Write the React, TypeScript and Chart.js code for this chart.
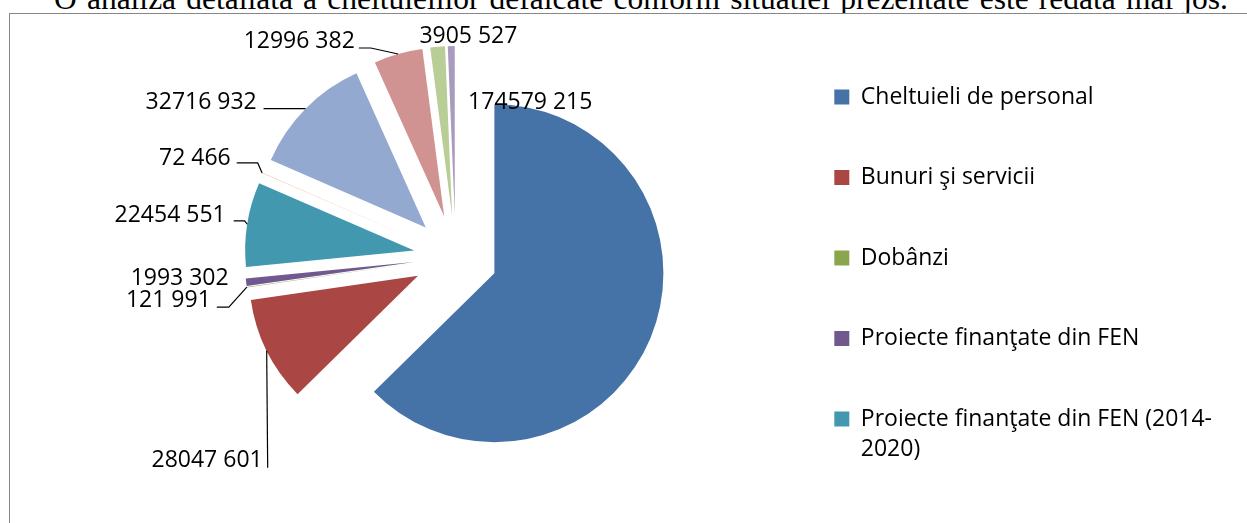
import React, { useEffect, useRef } from 'react';
import { Chart, registerables } from 'chart.js';

Chart.register(...registerables);

// ---------- data ----------
const headingText =
  'O analiza detaliata a cheltuielilor defalcate conform situatiei prezentate este redata mai jos.';

const categories: (string | string[])[] = [
  'Cheltuieli de personal',
  'Bunuri şi servicii',
  'Dobânzi',
  'Proiecte finanţate din FEN',
  ['Proiecte finanţate din FEN (2014-', '2020)'],
  'Transferuri',
  'Asistenţă socială',
  'Alte cheltuieli',
  'Active nefinanciare',
  'Active financiare',
];

const values = [
  174579215, 28047601, 121991, 1993302, 22454551, 72466, 32716932, 12996382, 3905527, 1850000,
];

const colors = [
  '#4572A7',
  '#AA4643',
  '#89A54E',
  '#71588F',
  '#4198AF',
  '#DB843D',
  '#93A9CF',
  '#D19392',
  '#B9CD96',
  '#A99BBD',
];

const legendVisibleCount = 5;

// ---------- style / placement ----------
const EXPLODE = 42;
const RADIUS = 169;
const LABEL_FONT_SIZE = 23;
const LABEL_FONT = `${LABEL_FONT_SIZE}px 'Open Sans', sans-serif`;

type Placement = { dx: number; dy: number; align: CanvasTextAlign; leader: number[][] } | null;
// offsets relative to the outer point of each slice's bisector
const labelPlacement: Placement[] = [
  { dx: -120, dy: -238, align: 'center', leader: [] },
  { dx: -4, dy: 108, align: 'right', leader: [[1, 117]] },
  { dx: -36, dy: 12, align: 'right', leader: [[-18, 20], [-30, 20]] },
  { dx: -17.5, dy: -5, align: 'right', leader: [] },
  { dx: -21.5, dy: -10.4, align: 'right', leader: [[-2.5, -3.4], [-13.5, -3.4]] },
  { dx: -31.4, dy: -16, align: 'right', leader: [[-4.4, -10], [-25.4, -10]] },
  { dx: -48.8, dy: -7.8, align: 'right', leader: [[-42, 0]] },
  { dx: -43.3, dy: -14, align: 'right', leader: [[-27.3, -6], [-39.3, -6]] },
  { dx: 30.8, dy: -11.8, align: 'center', leader: [] },
  null,
];

const fmt = (v: number) => {
  const s = String(v);
  return s.length > 3 ? s.slice(0, -3) + ' ' + s.slice(-3) : s;
};

const explodedPie = {
  id: 'explodedPie',
  beforeDatasetDraw(chart: any, args: any) {
    const ctx = chart.ctx;
    ctx.save();
    args.meta.data.forEach((arc: any) => {
      const { x, y, startAngle, endAngle, outerRadius } = arc;
      const mid = (startAngle + endAngle) / 2;
      const cx = x + EXPLODE * Math.cos(mid);
      const cy = y + EXPLODE * Math.sin(mid);
      ctx.beginPath();
      ctx.moveTo(cx, cy);
      ctx.arc(cx, cy, outerRadius, startAngle, endAngle);
      ctx.closePath();
      ctx.fillStyle = arc.options.backgroundColor;
      ctx.fill();
    });
    ctx.restore();
    return false;
  },
};

const valueLabels = {
  id: 'valueLabels',
  afterDatasetsDraw(chart: any) {
    const ctx = chart.ctx;
    const meta = chart.getDatasetMeta(0);
    const data = chart.data.datasets[0].data as number[];
    ctx.save();
    ctx.font = LABEL_FONT;
    ctx.fillStyle = '#000';
    ctx.strokeStyle = '#000';
    ctx.lineWidth = 1.2;
    meta.data.forEach((arc: any, i: number) => {
      const place = labelPlacement[i];
      if (!place) return;
      const mid = (arc.startAngle + arc.endAngle) / 2;
      const r = EXPLODE + arc.outerRadius;
      const px = arc.x + r * Math.cos(mid);
      const py = arc.y + r * Math.sin(mid);
      if (place.leader.length) {
        ctx.beginPath();
        ctx.moveTo(px, py);
        place.leader.forEach(([lx, ly]) => ctx.lineTo(px + lx, py + ly));
        ctx.stroke();
      }
      ctx.textAlign = place.align;
      ctx.textBaseline = 'alphabetic';
      ctx.fillText(fmt(data[i]), px + place.dx, py + place.dy + LABEL_FONT_SIZE * 0.36);
    });
    ctx.restore();
  },
};

function PieChart() {
  const ref = useRef<HTMLCanvasElement | null>(null);
  useEffect(() => {
    if (!ref.current) return;
    const chart = new Chart(ref.current, {
      type: 'pie',
      data: {
        labels: categories as any,
        datasets: [
          {
            data: values,
            backgroundColor: colors,
            borderWidth: 0,
            hoverOffset: 0,
            radius: RADIUS,
          } as any,
        ],
      },
      options: {
        responsive: false,
        animation: false,
        events: [],
        layout: { padding: { left: 124.5, right: 25, top: 0, bottom: 0 } },
        plugins: {
          legend: {
            position: 'right',
            align: 'end',
            labels: {
              boxWidth: 15,
              boxHeight: 15,
              padding: 57.5,
              color: '#000',
              font: { family: "'Open Sans', sans-serif", size: 23, lineHeight: '30px' as any },
              filter: (item: any) => item.index < legendVisibleCount,
            },
          },
          tooltip: { enabled: false },
        },
      },
      plugins: [explodedPie, valueLabels],
    });
    return () => chart.destroy();
  }, []);
  return (
    <canvas
      ref={ref}
      width={1237}
      height={536}
      style={{ position: 'absolute', left: 10, top: -11, width: 1237, height: 536, display: 'block' }}
    />
  );
}

export default function App() {
  return (
    <div
      style={{
        position: 'absolute',
        left: 0,
        top: 0,
        width: 1247,
        height: 523,
        overflow: 'hidden',
        background: '#fff',
      }}
    >
      <div
        style={{
          position: 'absolute',
          left: 54,
          top: -18.6,
          width: 1174,
          fontFamily: "'Liberation Serif', 'Times New Roman', serif",
          fontSize: 31.5,
          lineHeight: '36px',
          whiteSpace: 'nowrap',
          textAlign: 'justify',
          textAlignLast: 'justify' as any,
          color: '#000',
        }}
      >
        {headingText}
      </div>
      <div
        style={{
          position: 'absolute',
          left: 9,
          top: 13,
          width: 1300,
          height: 600,
          borderLeft: '1px solid #878787',
          borderTop: '1px solid #878787',
          background: '#fff',
        }}
      />
      <PieChart />
    </div>
  );
}
